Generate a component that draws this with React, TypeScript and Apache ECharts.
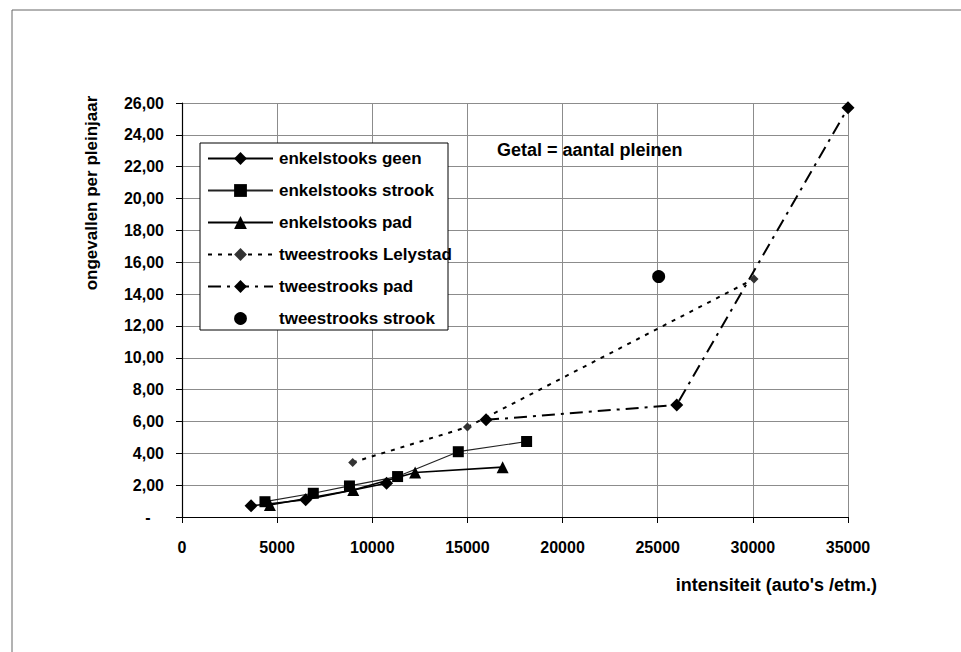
import React, { useEffect, useRef } from "react";
import * as echarts from "echarts";

const seriesNames = [
  "enkelstooks geen",
  "enkelstooks strook",
  "enkelstooks pad",
  "tweestrooks Lelystad",
  "tweestrooks pad",
  "tweestrooks strook",
];

// [intensiteit, ongevallen per pleinjaar]
const enkelGeen: [number, number][] = [
  [3630, 0.7],
  [6500, 1.08],
  [10750, 2.12],
];
const enkelStrook: [number, number][] = [
  [4360, 0.96],
  [6900, 1.49],
  [8800, 1.95],
  [11330, 2.54],
  [14520, 4.1],
  [18110, 4.74],
];
const enkelPad: [number, number][] = [
  [4620, 0.75],
  [9000, 1.7],
  [12250, 2.79],
  [16850, 3.13],
];
const tweeLelystad: [number, number][] = [
  [8970, 3.43],
  [15000, 5.65],
  [30060, 14.95],
];
const tweePad: [number, number][] = [
  [15980, 6.1],
  [26000, 7.04],
  [35000, 25.7],
];
const tweeStrook: [number, number][] = [[25050, 15.1]];

const FONT = "'Liberation Sans', Arial, sans-serif";

export default function App() {
  const ref = useRef<HTMLDivElement>(null);
  useEffect(() => {
    if (!ref.current) return;
    const chart = echarts.init(ref.current, undefined, { renderer: "svg" });
    const baseText = { fontFamily: FONT, fontWeight: "bold" as const, fontSize: 16, color: "#000" };
    chart.setOption({
      animation: false,
      backgroundColor: "#fff",
      textStyle: { fontFamily: FONT },
      grid: { left: 182, right: 113, top: 103, bottom: 135, containLabel: false },
      xAxis: {
        type: "value",
        min: 0,
        max: 35000,
        interval: 5000,
        axisLine: { show: true, onZero: false, lineStyle: { color: "#000", width: 1.2 } },
        axisTick: { show: true, length: 6, lineStyle: { color: "#000" } },
        axisLabel: { ...baseText, margin: 22, formatter: (v: number) => String(v) },
        splitLine: { show: true, lineStyle: { color: "#8c8c8c", width: 1 } },
      },
      yAxis: {
        type: "value",
        min: 0,
        max: 26,
        interval: 2,
        axisLine: { show: true, onZero: false, lineStyle: { color: "#000", width: 1.2 } },
        axisTick: { show: true, length: 6, lineStyle: { color: "#000" } },
        axisLabel: {
          ...baseText,
          margin: 18,
          formatter: (v: number) => (v === 0 ? "-   " : v.toFixed(2).replace(".", ",")),
        },
        splitLine: { show: true, lineStyle: { color: "#8c8c8c", width: 1 } },
      },
      legend: {
        show: true,
        orient: "vertical",
        left: 200,
        top: 143,
        padding: [7, 7, 2, 7],
        itemWidth: 65,
        itemHeight: 16,
        itemGap: 15,
        textStyle: { ...baseText, fontSize: 17, padding: [0, 0, 0, 1] },
        data: seriesNames,
        z: 10,
      },
      graphic: [
        {
          type: "line",
          shape: { x1: 12, y1: 10, x2: 961, y2: 10 },
          style: { stroke: "#666", lineWidth: 1 },
          z: 1,
        },
        {
          type: "line",
          shape: { x1: 12, y1: 10, x2: 12, y2: 652 },
          style: { stroke: "#666", lineWidth: 1 },
          z: 1,
        },
        {
          type: "rect",
          shape: { x: 200, y: 143, width: 248, height: 187 },
          style: { fill: "#fff", stroke: "#000", lineWidth: 1 },
          z: 5,
        },
        {
          type: "text",
          x: 497,
          y: 150,
          style: { text: "Getal = aantal pleinen", font: `bold 18px ${FONT}`, fill: "#000", verticalAlign: "middle" },
          z: 6,
        },
        {
          type: "text",
          x: 91,
          y: 193,
          rotation: Math.PI / 2,
          style: {
            text: "ongevallen per pleinjaar",
            font: `bold 17px ${FONT}`,
            fill: "#000",
            align: "center",
            verticalAlign: "middle",
          },
          z: 6,
        },
        {
          type: "text",
          x: 877,
          y: 585,
          style: {
            text: "intensiteit (auto's /etm.)",
            font: `bold 18px ${FONT}`,
            fill: "#000",
            align: "right",
            verticalAlign: "middle",
          },
          z: 6,
        },
      ],
      series: [
        {
          name: seriesNames[0],
          type: "line",
          data: enkelGeen,
          symbol: "diamond",
          symbolSize: 13,
          itemStyle: { color: "#000" },
          lineStyle: { color: "#000", width: 1.6, type: "solid" },
          z: 3,
        },
        {
          name: seriesNames[1],
          type: "line",
          data: enkelStrook,
          symbol: "rect",
          symbolSize: 11,
          itemStyle: { color: "#000" },
          lineStyle: { color: "#222", width: 1.2, type: "solid" },
          z: 3,
        },
        {
          name: seriesNames[2],
          type: "line",
          data: enkelPad,
          symbol: "triangle",
          symbolSize: 12,
          itemStyle: { color: "#000" },
          lineStyle: { color: "#000", width: 1.6, type: "solid" },
          z: 3,
        },
        {
          name: seriesNames[3],
          type: "line",
          data: tweeLelystad,
          symbol: "diamond",
          symbolSize: 9,
          itemStyle: { color: "#333" },
          lineStyle: { color: "#000", width: 2, type: [4, 6] },
          z: 3,
        },
        {
          name: seriesNames[4],
          type: "line",
          data: tweePad,
          symbol: "diamond",
          symbolSize: 13,
          itemStyle: { color: "#000" },
          lineStyle: { color: "#000", width: 2, type: [13, 6, 3, 6] },
          z: 3,
        },
        {
          name: seriesNames[5],
          type: "line",
          data: tweeStrook,
          symbol: "circle",
          symbolSize: 13,
          itemStyle: { color: "#000" },
          lineStyle: { opacity: 0 },
          z: 3,
        },
      ],
    });
    return () => chart.dispose();
  }, []);
  return (
    <div
      ref={ref}
      style={{ position: "absolute", left: 0, top: 0, width: 961, height: 652 }}
    />
  );
}
